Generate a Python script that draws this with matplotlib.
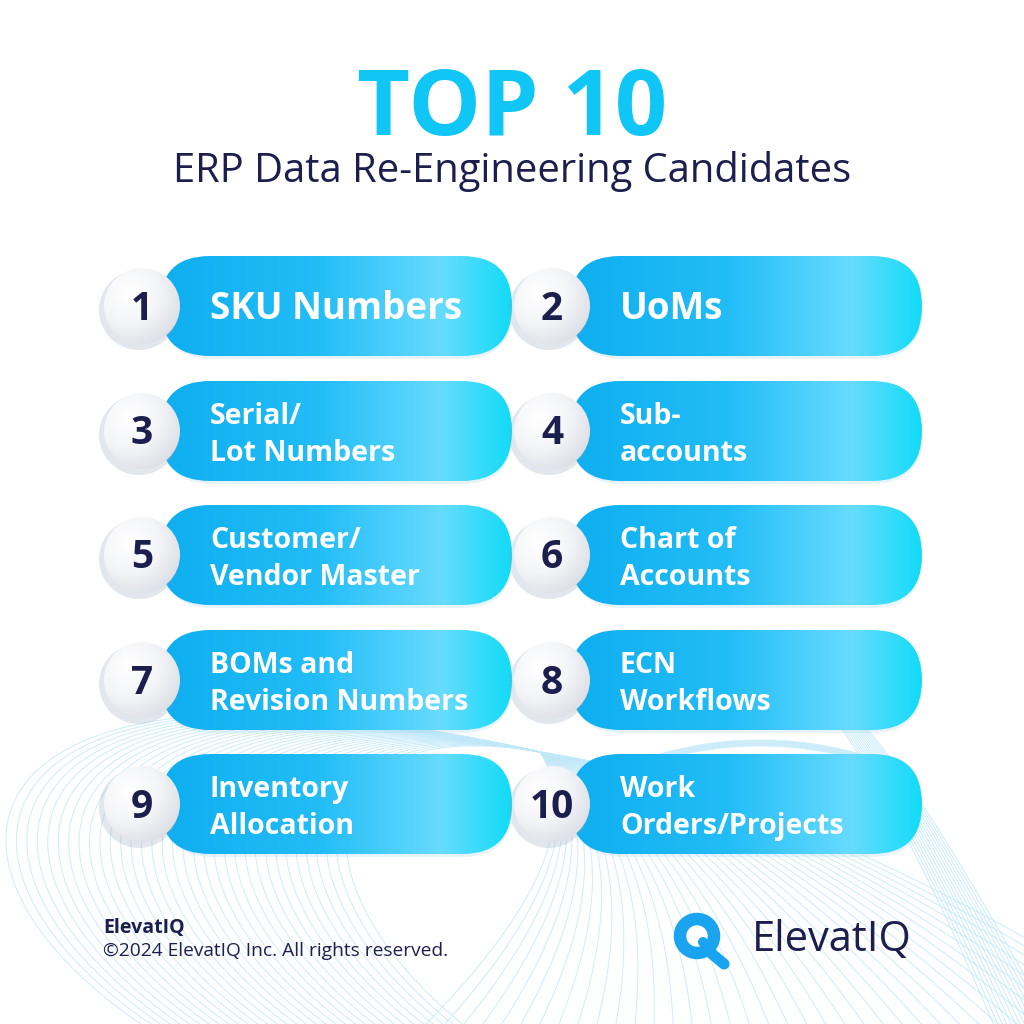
import matplotlib.pyplot as plt
import numpy as np
from matplotlib.patches import FancyBboxPatch, Circle
from matplotlib.colors import LinearSegmentedColormap

plt.rcParams['font.family'] = ['Open Sans', 'DejaVu Sans']

# Infographic content
title = 'TOP 10'
subtitle = 'ERP Data Re-Engineering Candidates'
ranks = [1, 2, 3, 4, 5, 6, 7, 8, 9, 10]
items = ['SKU Numbers', 'UoMs', 'Serial/\nLot Numbers', 'Sub-\naccounts',
         'Customer/\nVendor Master', 'Chart of\nAccounts',
         'BOMs and\nRevision Numbers', 'ECN\nWorkflows',
         'Inventory\nAllocation', 'Work\nOrders/Projects']
footer_brand = 'ElevatIQ'
footer_copy = '\u00a92024 ElevatIQ Inc. All rights reserved.'

NAVY = '#1c1f4e'
CYAN = '#0fc6f6'
LINE = '#bfe8f9'

fig = plt.figure(figsize=(10.24, 10.24), dpi=100)
ax = fig.add_axes([0, 0, 1, 1])
ax.set_xlim(0, 1024)
ax.set_ylim(1024, 0)
ax.axis('off')
fig.patch.set_facecolor('white')


def bezier(pts, n=120):
    t = np.linspace(0, 1, n)[:, None]
    p = np.array(pts, dtype=float)
    if len(p) == 3:
        return (1 - t) ** 2 * p[0] + 2 * (1 - t) * t * p[1] + t ** 2 * p[2]
    return ((1 - t) ** 3 * p[0] + 3 * (1 - t) ** 2 * t * p[1]
            + 3 * (1 - t) * t ** 2 * p[2] + t ** 3 * p[3])


# decorative background: wave ribbon pinched near badge 10
pinch = (540, 752)
for f in np.linspace(0, 1, 34):
    c = bezier([(150 + 320 * f, 1030), (-110 + 400 * f, 860 + 30 * f),
                (-40 + 340 * f, 620 + 90 * f), pinch])
    ax.plot(c[:, 0], c[:, 1], color=LINE, lw=0.7, alpha=0.8, zorder=0)
for f in np.linspace(0, 1, 40):
    end = (420 + 760 * f, 1030)
    ctrl = (pinch[0] + 200 * f + 60, 850 - 60 * f)
    c = bezier([pinch, ctrl, end])
    ax.plot(c[:, 0], c[:, 1], color=LINE, lw=0.7, alpha=0.8, zorder=0)
for f in np.linspace(0, 1, 14):
    c = bezier([(820 + 40 * f, 700 + 20 * f), (900 + 30 * f, 800),
                (1000 + 60 * f, 1040)])
    ax.plot(c[:, 0], c[:, 1], color=LINE, lw=0.7, alpha=0.8, zorder=0)
for f in np.linspace(0, 1, 10):
    c = bezier([(640 + 20 * f, 760), (760, 720 + 12 * f), (880 - 20 * f, 760)])
    ax.plot(c[:, 0], c[:, 1], color=LINE, lw=0.7, alpha=0.7, zorder=0)

pill_cmap = LinearSegmentedColormap.from_list(
    'pill', [(0, '#0eaef0'), (0.45, '#22bdf7'), (0.8, '#67dbff'), (1.0, '#12dcf7')])
circ_cmap = LinearSegmentedColormap.from_list('circ', ['#ffffff', '#f4f5f8', '#d9dce4'])

col_x = [160, 570]
row_y = [306, 431, 555, 680, 804]
pill_w, pill_h = 352, 100
grad = np.linspace(0, 1, 256).reshape(1, -1)
yy, xx = np.mgrid[-1:1:200j, -1:1:200j]
rad = np.clip(np.hypot(xx + 0.35, yy + 0.35) / 1.6, 0, 1)

for i, (rank, label) in enumerate(zip(ranks, items)):
    cx = col_x[i % 2]
    cy = row_y[i // 2]
    sh = FancyBboxPatch((cx + 2, cy - pill_h / 2 + 3), pill_w - 2, pill_h,
                        boxstyle='round,pad=0,rounding_size=50',
                        fc='#9fd6ee', ec='none', alpha=0.25, zorder=1)
    ax.add_patch(sh)
    pill = FancyBboxPatch((cx, cy - pill_h / 2), pill_w, pill_h,
                          boxstyle='round,pad=0,rounding_size=50',
                          fc='none', ec='none', zorder=2)
    ax.add_patch(pill)
    im = ax.imshow(grad, cmap=pill_cmap, aspect='auto', zorder=2,
                   extent=(cx, cx + pill_w, cy + pill_h / 2, cy - pill_h / 2))
    im.set_clip_path(pill)

    # number badge
    bx = cx - 18
    r = 38
    ax.add_patch(Circle((bx - 3, cy + 4), r + 2, fc='#8aa0b8', ec='none',
                        alpha=0.25, zorder=3))
    badge = Circle((bx, cy), r, fc='none', ec='none', zorder=4)
    ax.add_patch(badge)
    bim = ax.imshow(rad, cmap=circ_cmap, zorder=4,
                    extent=(bx - r, bx + r, cy + r, cy - r))
    bim.set_clip_path(badge)
    ax.text(bx, cy + 3, str(rank), ha='center', va='center', fontsize=28,
            fontweight='bold', color=NAVY, zorder=5)

    one_line = '\n' not in label
    ax.text(cx + 50, cy + (3 if one_line else 4), label, ha='left', va='center',
            fontsize=26.5 if one_line else 20.5, fontweight='bold', color='white',
            linespacing=1.33, zorder=5)

# titles
ax.text(512, 111, title, ha='center', va='center', fontsize=66,
        fontweight='bold', color=CYAN)
ax.text(512, 172, subtitle, ha='center', va='center', fontsize=28.7,
        color=NAVY)

# footer
ax.text(103, 928, footer_brand, ha='left', va='center', fontsize=14,
        fontweight='bold', color=NAVY)
ax.text(103, 951, footer_copy, ha='left', va='center', fontsize=13.8,
        color=NAVY)

# logo
ax.add_patch(Circle((697, 936), 17, fc='white', ec='#1aa3ee', lw=9, zorder=5))
ax.add_patch(Circle((703, 942), 5, fc='#1aa3ee', ec='none', zorder=5))
ax.plot([711, 724], [953, 964], color='#1aa3ee', lw=8,
        solid_capstyle='round', zorder=5)
ax.text(752, 940, 'ElevatIQ', ha='left', va='center', fontsize=30,
        color=NAVY, zorder=5)

fig.savefig('out.png', dpi=100, facecolor='white')
